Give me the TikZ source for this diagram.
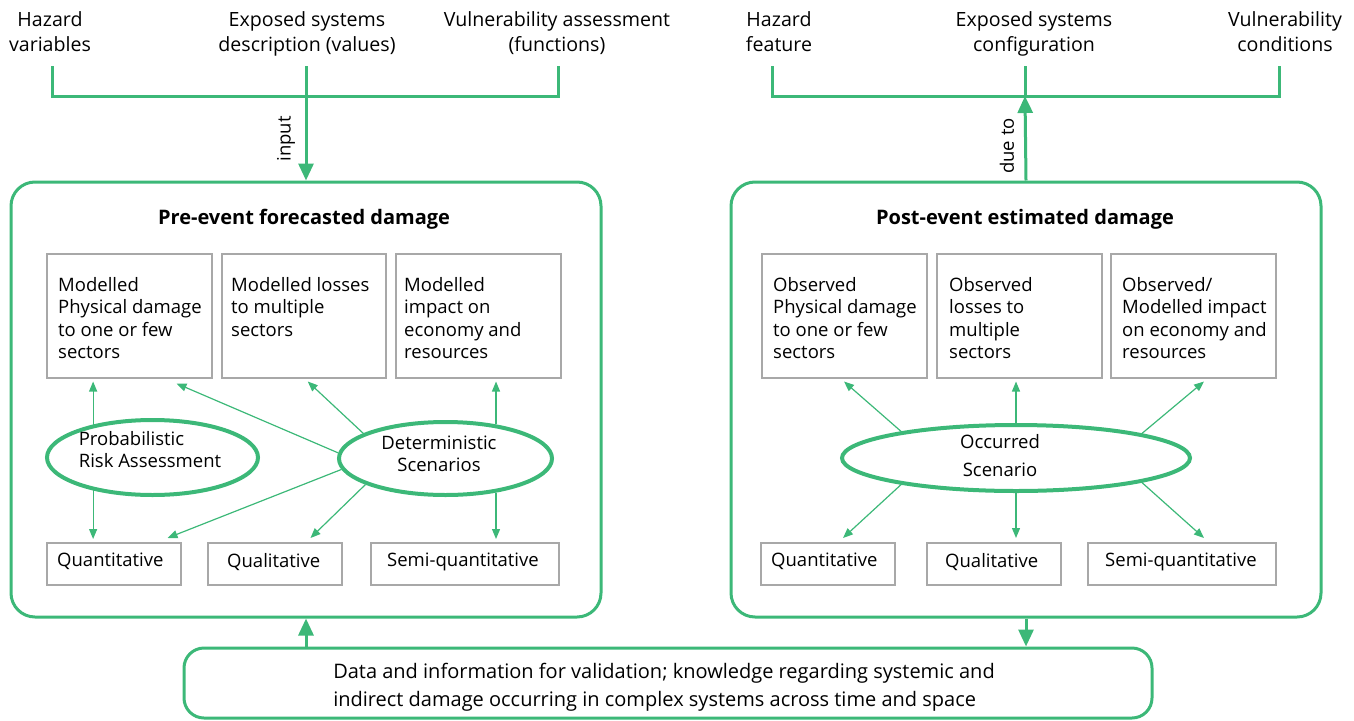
\documentclass[tikz,border=0pt]{standalone}
\usepackage{fontspec}
\setmainfont{Open Sans}
\usetikzlibrary{arrows.meta,shapes.geometric,calc}
\definecolor{grn}{HTML}{3CB878}
\definecolor{gry}{HTML}{A8A8A8}
\begin{document}
\begin{tikzpicture}[x=1pt,y=-1pt,
  font=\fontsize{18.5}{23}\selectfont,
  bigbox/.style={draw=grn, line width=3pt, rounded corners=24pt, minimum width=590pt, minimum height=435pt, inner sep=0pt},
  valbox/.style={draw=grn, line width=3pt, rounded corners=20pt, minimum width=968pt, minimum height=70pt, inner sep=0pt},
  valtext/.style={inner sep=0pt, align=left, font=\fontsize{20}{27.5}\selectfont},
  ibox/.style={draw=gry, line width=1.5pt, inner sep=0pt, anchor=north west},
  itext/.style={inner sep=0pt, align=left, anchor=north west, font=\fontsize{18.5}{22.5}\selectfont},
  qtext/.style={inner sep=0pt, anchor=west},
  toptext/.style={inner sep=0pt, align=center, anchor=north, font=\fontsize{19.6}{25}\selectfont},
  ell/.style={ellipse, draw=grn, line width=4pt, inner sep=0pt},
  thinarr/.style={draw=grn, line width=1.2pt, -{Triangle[width=8pt,length=10pt]}},
  bigarr/.style={draw=grn, line width=3pt, -{Triangle[width=15pt,length=17pt]}},
  bracket/.style={draw=grn, line width=3pt},
  ttl/.style={inner sep=0pt, font=\bfseries\fontsize{20}{24}\selectfont}
]
\useasboundingbox (0,0) rectangle (1354,720);

% ---------- top texts ----------
\node[toptext] (h1) at (50,11) {Hazard\\variables};
\node[toptext] (e1) at (307,11) {Exposed systems\\description (values)};
\node[toptext] (v1) at (557,11) {Vulnerability assessment\\(functions)};
\node[toptext] (h2) at (779,11) {Hazard\\feature};
\node[toptext] (e2) at (1034,11) {Exposed systems\\configuration};
\node[toptext] (v2) at (1285,11) {Vulnerability\\conditions};

% bracket coordinates
\coordinate (hl) at (52,66);
\coordinate (el) at (306,66);
\coordinate (vl) at (558,66);
\coordinate (lj) at (306,96);
\coordinate (hr) at (772,66);
\coordinate (er) at (1025,66);
\coordinate (vr) at (1279,66);
\coordinate (rj) at (1025,96);

% ---------- big boxes ----------
\node[bigbox] (pre) at (306,399.5) {};
\node[bigbox] (post) at (1026,399.5) {};
\node[valbox] (val) at (668,683) {};
\node[valtext] (valt) at (664,687) {Data and information for validation; knowledge regarding systemic and\\indirect damage occurring in complex systems across time and space};

\node[ttl] (t1) at (304,219) {Pre-event forecasted damage};
\node[ttl] (t2) at (1025,219) {Post-event estimated damage};

% brackets and big arrows
\draw[bracket] (hl) -- (hl |- lj) -- (vl |- lj) -- (vl);
\draw[bigarr] (el) -- (pre.north);
\node[rotate=90, inner sep=0pt] (inp) at (286,139) {input};
\draw[bracket] (hr) -- (hr |- rj) -- (vr |- rj) -- (vr);
\draw[bracket] (er) -- (rj);
\draw[bigarr] (post.north) -- (rj);
\node[rotate=90, inner sep=0pt] (due) at (1007,146) {due to};
\draw[bigarr] (pre.south |- val.north) -- (pre.south);
\draw[bigarr] (post.south) -- (post.south |- val.north);

% ---------- left inner boxes ----------
\node[ibox, minimum width=165pt, minimum height=124pt] (A) at (46,253) {};
\node[itext] (At) at ($(A.north west)+(12,24)$) {Modelled\\Physical damage\\to one or few\\sectors};
\node[ibox, minimum width=164pt, minimum height=124pt] (B) at (221,253) {};
\node[itext] (Bt) at ($(B.north west)+(10,24)$) {Modelled losses\\to multiple\\sectors};
\node[ibox, minimum width=165pt, minimum height=124pt] (C) at (395,253) {};
\node[itext] (Ct) at ($(C.north west)+(9,24)$) {Modelled\\impact on\\economy and\\resources};

\node[ibox, minimum width=134pt, minimum height=42pt] (Q1) at (46,542) {};
\node[qtext] (Q1t) at ($(Q1.west)+(11,-2)$) {Quantitative};
\node[ibox, minimum width=134pt, minimum height=42pt] (Q2) at (207,542) {};
\node[qtext] (Q2t) at ($(Q2.west)+(20,-2)$) {Qualitative};
\node[ibox, minimum width=188pt, minimum height=42pt] (Q3) at (370,542) {};
\node[qtext] (Q3t) at ($(Q3.west)+(17,-2)$) {Semi-quantitative};

% ellipses left
\node[ell, minimum width=211pt, minimum height=75pt] (prob) at (152.5,457.5) {};
\node[inner sep=0pt, align=left, font=\fontsize{18.5}{22}\selectfont] (probt) at (150,450) {Probabilistic\\Risk Assessment};
\node[ell, minimum width=213pt, minimum height=73pt] (det) at (445.5,458.5) {};
\node[inner sep=0pt, align=center, font=\fontsize{18.5}{22}\selectfont] (dett) at (439,454) {Deterministic\\Scenarios};

% arrows left
\draw[thinarr, shorten >=3pt] (prob.151) -- (prob.151 |- A.south);
\draw[thinarr, shorten >=3pt] (prob.209) -- (prob.209 |- Q1.north);
\draw[thinarr] (det.177) -- ($(A.south east)+(-36,5)$);
\draw[thinarr] (det.163) -- ($(B.south)+(4,3)$);
\draw[thinarr, shorten >=3pt] (det.34) -- (det.34 |- C.south);
\draw[thinarr] (det.186) -- ($(Q1.north east)+(-14,-4)$);
\draw[thinarr] (det.198) -- ($(Q2.north east)+(-32,-4)$);
\draw[thinarr, shorten >=3pt] (det.326) -- (det.326 |- Q3.north);

% ---------- right inner boxes ----------
\node[ibox, minimum width=165pt, minimum height=124pt] (D) at (761,253) {};
\node[itext] (Dt) at ($(D.north west)+(12,24)$) {Observed\\Physical damage\\to one or few\\sectors};
\node[ibox, minimum width=165pt, minimum height=124pt] (E) at (936,253) {};
\node[itext] (Et) at ($(E.north west)+(13,24)$) {Observed\\losses to\\multiple\\sectors};
\node[ibox, minimum width=165pt, minimum height=124pt] (F) at (1110,253) {};
\node[itext] (Ft) at ($(F.north west)+(12,24)$) {Observed/\\Modelled impact\\on economy and\\resources};

\node[ibox, minimum width=134pt, minimum height=42pt] (R1) at (760,542) {};
\node[qtext] (R1t) at ($(R1.west)+(11,-2)$) {Quantitative};
\node[ibox, minimum width=134pt, minimum height=42pt] (R2) at (926,542) {};
\node[qtext] (R2t) at ($(R2.west)+(19,-2)$) {Qualitative};
\node[ibox, minimum width=188pt, minimum height=42pt] (R3) at (1087,542) {};
\node[qtext] (R3t) at ($(R3.west)+(18,-2)$) {Semi-quantitative};

\node[ell, minimum width=348pt, minimum height=66pt] (occ) at (1016,458) {};
\node[inner sep=0pt, align=center, font=\fontsize{18.5}{28}\selectfont] (occt) at (1000,456) {Occurred\\Scenario};

% arrows right
\draw[thinarr] (occ.167) -- ($(D.south west)+(83,3)$);
\draw[thinarr, shorten >=3pt] (occ.north) -- (occ.north |- E.south);
\draw[thinarr] (occ.11) -- ($(F.south west)+(94,3)$);
\draw[thinarr] (occ.193) -- ($(R1.north west)+(83,-4)$);
\draw[thinarr, shorten >=4pt] (occ.south) -- (occ.south |- R2.north);
\draw[thinarr] (occ.349) -- ($(R3.north west)+(117,-4)$);
\end{tikzpicture}
\end{document}
